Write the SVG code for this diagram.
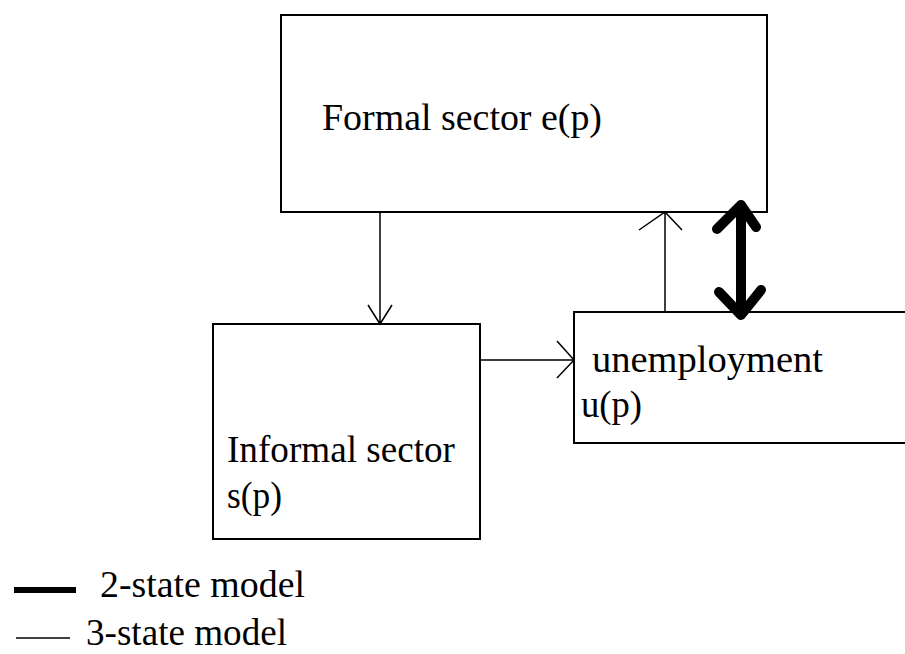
<svg xmlns="http://www.w3.org/2000/svg" width="905" height="654" viewBox="0 0 905 654">
<style>
.box{fill:#fff;stroke:#000;stroke-width:2}
.t{font-family:"Liberation Serif","DejaVu Serif",serif;font-size:38px;fill:#000}
.thin{fill:none;stroke:#000;stroke-width:1.5}
.thick{fill:none;stroke:#000;stroke-width:10;stroke-linecap:round;stroke-linejoin:round}
</style>
<rect width="905" height="654" fill="#fff"/>
<g id="formal">
<rect class="box" x="281" y="15" width="486" height="197"/>
<text class="t" x="322" y="130" textLength="280" lengthAdjust="spacingAndGlyphs">Formal sector e(p)</text>
</g>
<g id="informal">
<rect class="box" x="213" y="324" width="267" height="215"/>
<text class="t" x="227" y="462" textLength="228" lengthAdjust="spacingAndGlyphs">Informal sector</text>
<text class="t" x="227" y="508" textLength="55" lengthAdjust="spacingAndGlyphs">s(p)</text>
</g>
<g id="unemployment">
<rect class="box" x="574" y="312" width="345" height="131"/>
<text class="t" x="592" y="372" textLength="231" lengthAdjust="spacingAndGlyphs">unemployment</text>
<text class="t" x="581" y="417" textLength="61" lengthAdjust="spacingAndGlyphs">u(p)</text>
</g>
<g id="connectors">
<path class="thin" d="M380 212 V324 M368 305 L380 324 L392 305"/>
<path class="thin" d="M480 360 H574 M557 341 L574 360 L557 378"/>
<path class="thin" d="M665 312 V212 M639 230 L665 212 L682 230"/>
<path class="thick" d="M741 205 V315 M717 229 L741 205 L756 227 M719 292 L741 315 L761 290"/>
</g>
<g id="legend">
<rect x="14" y="587" width="62" height="6" fill="#000"/>
<text class="t" x="100" y="597" textLength="205" lengthAdjust="spacingAndGlyphs">2-state model</text>
<line x1="16" y1="638" x2="70" y2="638" stroke="#000" stroke-width="1.5"/>
<text class="t" x="86" y="645" textLength="201" lengthAdjust="spacingAndGlyphs">3-state model</text>
</g>
</svg>
